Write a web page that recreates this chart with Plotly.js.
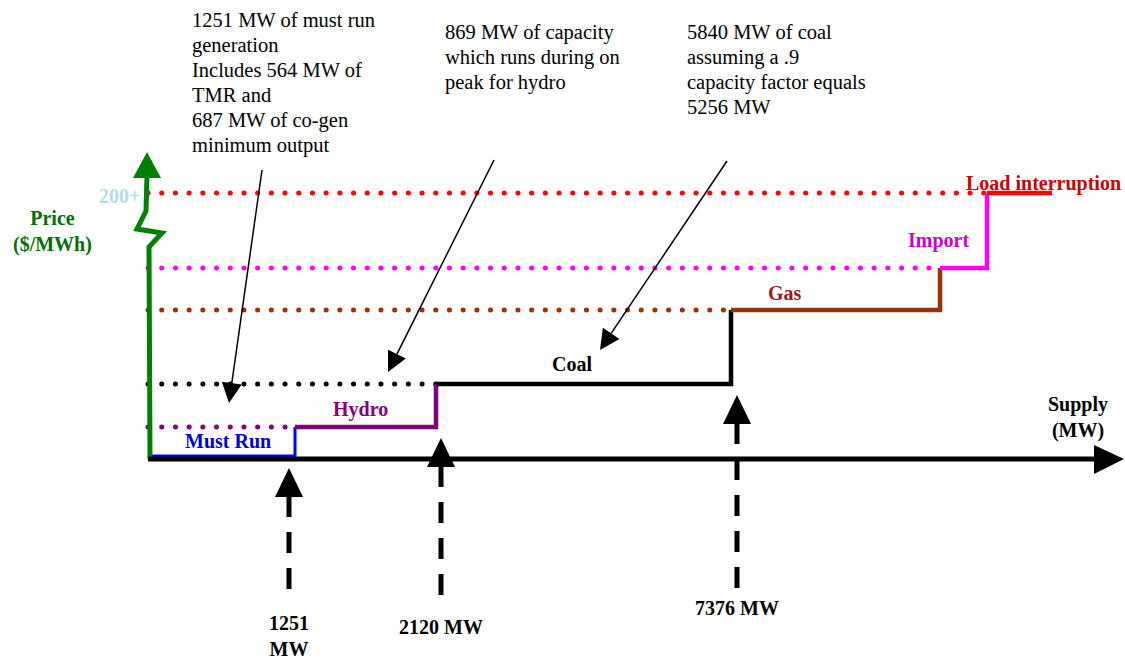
<!DOCTYPE html>
<html><head><meta charset="utf-8">
<script src="https://cdn.plot.ly/plotly-3.0.1.min.js"></script>
<style>
html,body{margin:0;padding:0;background:#fff;}
#chart{width:1125px;height:663px;}
.js-line[style*="0.1px"]{stroke-linecap:round;}
</style></head><body><div id="chart"></div>
<script>
// ---- Data: schematic supply stack (supply position, price level) ----
const segments  = ['Must Run', 'Hydro', 'Coal', 'Gas', 'Import', 'Load interruption'];
const segStart  = [0, 145, 286, 581, 790, 837];
const segEnd    = [145, 286, 581, 790, 837, 902];
const segPrice  = [3, 32, 75, 149, 191, 266];
// capacity markers on the supply axis
const markerLabels = ['1251<br>MW', '2120 MW', '7376 MW'];
const markerPos    = [139, 291, 587];
const priceTick    = '200+';
const notes = [
  ['1251 MW of must run', 'generation', 'Includes 564 MW of', 'TMR and', '687 MW of co-gen', 'minimum output'],
  ['869 MW of capacity', 'which runs during on', 'peak for hydro'],
  ['5840 MW of coal', 'assuming a .9', 'capacity factor equals', '5256 MW']
];

// ---- Styles / layout positions (pixel layout of the diagram) ----
const segColors   = ['#0000ff', '#800080', '#000000', '#993300', '#ff00ff', '#ff0000'];
const labelColors = ['#0000cc', '#800080', '#000000', '#991a1a', '#cc00cc', '#cc0000'];
const labelPx     = [[228, 441], [360, 409], [572, 364], [785, 293], [938, 240], [1043, 183]];
const markerTip   = [468, 438, 395];
const markerEnd   = [600, 597, 590];
const markerTextY = [636, 627, 608];
const notePx      = [[190, 20], [443, 32], [685, 32]];
const pointers    = [[[262, 170], [229, 403]], [[494, 160], [388, 372]], [[727, 161], [600, 350]]];

const OX = 150, OY = 459;
const X = p => p - OX, Y = p => OY - p;
const FONT = 'Liberation Serif, Times New Roman, serif';
const GREEN = '#008000';

const traces = [];
// dotted guide lines from the price axis to each step
for (let i = 1; i < segments.length; i++) {
  traces.push({type: 'scatter', mode: 'lines', x: [-2, segStart[i]], y: [segPrice[i], segPrice[i]],
    line: {color: segColors[i], width: 5, dash: '0.1px,13.6px'}, hoverinfo: 'skip', showlegend: false});
}
// supply steps
for (let i = 0; i < segments.length; i++) {
  const last = i === segments.length - 1;
  traces.push({type: 'scatter', mode: 'lines', name: segments[i],
    x: last ? [segStart[i], segEnd[i]] : [segStart[i], segEnd[i], segEnd[i]],
    y: last ? [segPrice[i], segPrice[i]] : [segPrice[i], segPrice[i], segPrice[i + 1]],
    line: {color: segColors[i], width: i === 0 ? 3 : 4.5}, hoverinfo: 'skip', showlegend: false});
}

const shapes = [];
const tri = (pts, color) => shapes.push({type: 'path', xref: 'x', yref: 'y',
  path: 'M' + pts.map(p => p[0] + ',' + p[1]).join('L') + 'Z', fillcolor: color, line: {width: 0}});
// price axis (green) with break and arrow
shapes.push({type: 'path', xref: 'x', yref: 'y', path: 'M0,0L-1,212L12,226L-13,230L-4,248L-3,283',
  line: {color: GREEN, width: 5}});
tri([[-3, 307], [-17, 281], [11, 281]], GREEN);
// supply axis
shapes.push({type: 'line', xref: 'x', yref: 'y', x0: -2, y0: 0, x1: 947, y1: 0, line: {color: '#000', width: 5}});
tri([[974, 0], [944, 14], [944, -15]], '#000');
// capacity marker arrows (dashed, pointing up)
markerPos.forEach((m, i) => {
  const tip = Y(markerTip[i]), base = tip - 29;
  tri([[m, tip], [m - 14, base], [m + 14, base]], '#000');
  shapes.push({type: 'line', xref: 'x', yref: 'y', x0: m, y0: base + 1, x1: m, y1: Y(markerEnd[i]),
    line: {color: '#000', width: 5, dash: '21px,15px'}});
});
// pointer arrows from notes
pointers.forEach(([s, t]) => {
  const sx = X(s[0]), sy = Y(s[1]), tx = X(t[0]), ty = Y(t[1]);
  const L = Math.hypot(tx - sx, ty - sy), ux = (tx - sx) / L, uy = (ty - sy) / L;
  const bx = tx - ux * 20, by = ty - uy * 20;
  shapes.push({type: 'line', xref: 'x', yref: 'y', x0: sx, y0: sy, x1: bx, y1: by, line: {color: '#000', width: 1.5}});
  tri([[tx, ty], [bx - uy * 10, by + ux * 10], [bx + uy * 10, by - ux * 10]], '#000');
});

const ann = [];
const txt = (text, xp, yp, color, opts, size) => ann.push(Object.assign({text, x: X(xp), y: Y(yp), xref: 'x', yref: 'y',
  showarrow: false, xanchor: 'center', yanchor: 'middle', font: {family: FONT, size: size || 20, color}}, opts || {}));
segments.forEach((s, i) => txt('<b>' + s + '</b>', labelPx[i][0], labelPx[i][1], labelColors[i]));
markerLabels.forEach((l, i) => txt('<b>' + l + '</b>', markerPos[i] + OX, markerTextY[i], '#000'));
txt('<b>' + priceTick + '</b>', 119, 196, '#b4dde4');
txt('<b>Price<br>($/MWh)</b>', 52, 231, '#006e00');
txt('<b>Supply<br>(MW)</b>', 1078, 417, '#000');
notes.forEach((lines, k) => lines.forEach((l, j) =>
  txt(l, notePx[k][0], notePx[k][1] + 25 * j, '#000', {xanchor: 'left'}, 20.5)));

const layout = {
  width: 1125, height: 663, margin: {l: 0, r: 0, t: 0, b: 0},
  paper_bgcolor: '#fff', plot_bgcolor: '#fff', showlegend: false,
  xaxis: {range: [-OX, 1125 - OX], visible: false, fixedrange: true},
  yaxis: {range: [OY - 663, OY], visible: false, fixedrange: true},
  shapes, annotations: ann
};
Plotly.newPlot('chart', traces, layout, {displayModeBar: false, staticPlot: true});
</script></body></html>
